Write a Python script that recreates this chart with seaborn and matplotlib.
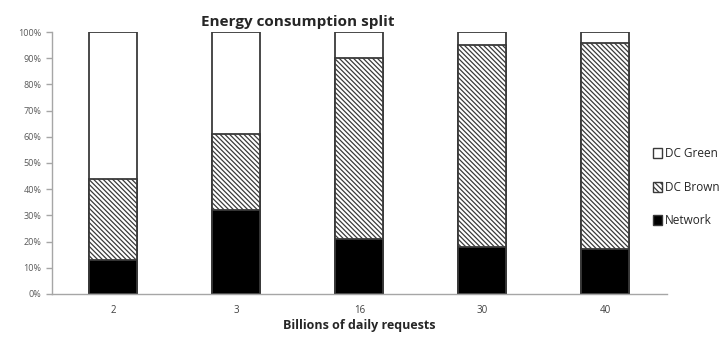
import matplotlib
matplotlib.use("Agg")
import matplotlib.pyplot as plt
from matplotlib.patches import Patch
from matplotlib.ticker import PercentFormatter, FixedLocator
import numpy as np
import pandas as pd
import seaborn as sns

# Share of energy per component (percent), by billions of daily requests
requests = ["2", "3", "16", "30", "40"]
network = [13, 32, 21, 18, 17]
dc_brown = [31, 29, 69, 77, 79]
dc_green = [56, 39, 10, 5, 4]

sns.set_theme(style="white")
plt.rcParams["font.family"] = ["Open Sans", "DejaVu Sans"]
plt.rcParams["hatch.linewidth"] = 0.9
plt.rcParams["hatch.color"] = "#2a2a2a"

df = pd.DataFrame({
    "requests": requests,
    "Network": network,
    "DC Brown": dc_brown,
    "DC Green": dc_green,
})
df["top_network"] = df["Network"] / 100
df["top_brown"] = (df["Network"] + df["DC Brown"]) / 100
df["top_green"] = (df["Network"] + df["DC Brown"] + df["DC Green"]) / 100

fig = plt.figure(figsize=(7.25, 3.41), dpi=100)
ax = fig.add_axes([0.0717, 0.138, 0.848, 0.768])

edge = "#3a3a3a"
hatch = "\\" * 7
common = dict(x="requests", order=requests, width=0.39, ax=ax,
              edgecolor=edge, linewidth=1.3)
# Stack drawn back to front: full height first, then cumulative layers on top
sns.barplot(data=df, y="top_green", color="white", **common)
sns.barplot(data=df, y="top_brown", color="white", hatch=hatch, **common)
sns.barplot(data=df, y="top_network", color="black", **common)

ax.set_ylim(0, 1)
ax.set_xlim(-0.5, 4.5)
ax.yaxis.set_major_locator(FixedLocator(np.arange(0, 1.01, 0.1)))
ax.yaxis.set_major_formatter(PercentFormatter(1.0, decimals=0))

for s in ["top", "right"]:
    ax.spines[s].set_visible(False)
for s in ["left", "bottom"]:
    ax.spines[s].set_color("#a6a6a6")
    ax.spines[s].set_linewidth(1.0)

ax.set_xticks(np.arange(-0.5, 4.6, 1.0), minor=True)
ax.tick_params(axis="x", which="major", length=0, labelsize=7, colors="#404040", pad=8)
ax.tick_params(axis="x", which="minor", length=4, width=1.0, color="#a6a6a6", direction="out")
ax.tick_params(axis="y", which="major", length=4, width=1.0, color="#a6a6a6",
               direction="out", labelsize=6.5, labelcolor="#595959", left=True)

ax.set_ylabel("")
ax.set_xlabel("Billions of daily requests", fontsize=9, fontweight="bold",
              labelpad=2)
ax.set_title("Energy consumption split", fontsize=11, fontweight="bold",
             pad=4, x=0.4)

handles = [
    Patch(facecolor="white", edgecolor=edge, linewidth=1.0, label="DC Green"),
    Patch(facecolor="white", edgecolor=edge, linewidth=1.0, hatch="\\" * 6, label="DC Brown"),
    Patch(facecolor="black", edgecolor=edge, linewidth=1.0, label="Network"),
]
fig.legend(handles=handles, loc="upper left", bbox_to_anchor=(0.893, 0.585),
           frameon=False, fontsize=8.5, handlelength=0.7, handleheight=0.9,
           handletextpad=0.3, labelspacing=1.72, borderpad=0)

fig.savefig("out.png", dpi=100)
